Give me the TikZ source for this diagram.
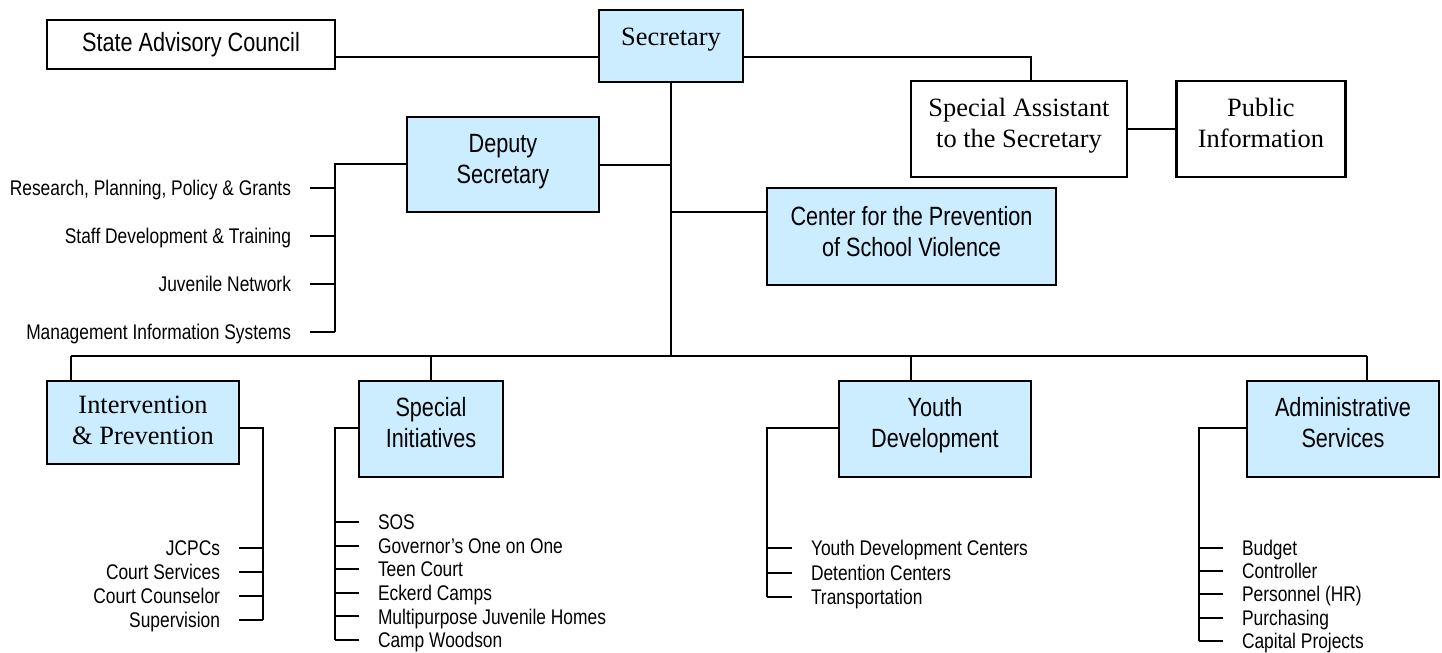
\documentclass[tikz,border=0pt]{standalone}
\usepackage{fontspec}
\setmainfont{Liberation Serif}
\newfontfamily\narrowsans[FakeStretch=0.82]{Liberation Sans}
\usetikzlibrary{positioning}
\definecolor{boxblue}{RGB}{204,236,255}
\newcommand{\twoline}[2]{\begin{tabular}{@{}c@{}}#1\\#2\end{tabular}}

\begin{document}
\begin{tikzpicture}[
    x=0.5pt, y=-0.5pt,
    line width=1pt,
    box/.style={rectangle, draw, line width=1.2pt, inner sep=0pt},
    bluebox/.style={box, fill=boxblue},
    raised/.style={text depth=15.7pt},
    sansbig/.style={font=\narrowsans\fontsize{13.2}{15.5}\selectfont},
    serifbig/.style={font=\fontsize{13.2}{15.5}\selectfont},
    item/.style={font=\narrowsans\fontsize{10.6}{12}\selectfont, inner xsep=9pt, inner ysep=0pt, text height=7.6pt, text depth=0pt}
]
    \useasboundingbox (0,0) rectangle (1442,653);

    % top level
    \node[box, sansbig, minimum width=144pt, minimum height=24.5pt] (sac) at (191,44.5) {State Advisory Council};
    \node[bluebox, serifbig, text depth=9pt, minimum width=72pt, minimum height=36pt] (sec) at (671,46) {Secretary};
    \node[bluebox, sansbig, raised, minimum width=96pt, minimum height=47.5pt] (dep) at (503,164.5) {\twoline{Deputy}{Secretary}};
    \node[bluebox, sansbig, text depth=14.7pt, minimum width=144.5pt, minimum height=48.5pt] (cpsv) at (911.5,236.5) {\twoline{Center for the Prevention}{of School Violence}};
    \node[box, serifbig, raised, minimum width=108pt, minimum height=48pt] (sa) at (1019,129) {\twoline{Special Assistant}{to the Secretary}};
    \node[box, serifbig, raised, minimum width=84.5pt, minimum height=48pt, right=23.5pt of sa] (pi) {\twoline{Public}{Information}};

    % divisions
    \node[bluebox, serifbig, minimum width=96pt, minimum height=41.5pt] (ip) at (143,422.5) {\twoline{Intervention}{\& Prevention}};
    \node[bluebox, sansbig, raised, minimum width=72pt, minimum height=48pt] (si) at (431,429) {\twoline{Special}{Initiatives}};
    \node[bluebox, sansbig, raised, minimum width=96pt, minimum height=48pt] (yd) at (935,429) {\twoline{Youth}{Development}};
    \node[bluebox, sansbig, raised, minimum width=96pt, minimum height=48pt] (as) at (1343,429) {\twoline{Administrative}{Services}};

    % sub units
    \foreach \t [count=\i] in {{Research, Planning, Policy \& Grants}, {Staff Development \& Training}, {Juvenile Network}, {Management Information Systems}}
        \node[item, anchor=east] (dl\i) at (310,{188+48*(\i-1)}) {\t};
    \foreach \t [count=\i] in {JCPCs, Court Services, Court Counselor, Supervision}
        \node[item, anchor=east] (ip\i) at (239,{548+24*(\i-1)}) {\t};
    \foreach \t [count=\i] in {SOS, Governor’s One on One, Teen Court, Eckerd Camps, Multipurpose Juvenile Homes, Camp Woodson}
        \node[item, anchor=west] (si\i) at (359,{522+23.6*(\i-1)}) {\t};
    \foreach \t [count=\i] in {Youth Development Centers, Detention Centers, Transportation}
        \node[item, anchor=west] (yd\i) at (792,{548+24.5*(\i-1)}) {\t};
    \foreach \t [count=\i] in {Budget, Controller, Personnel (HR), Purchasing, Capital Projects}
        \node[item, anchor=west] (as\i) at (1223,{547.5+23.4*(\i-1)}) {\t};

    % connectors
    \coordinate (topbar) at (671,57);
    \coordinate (sabend) at (1031,57);
    \coordinate (cpsvbar) at (671,212);
    \coordinate (ipdrop) at (71,356);
    \coordinate (yddrop) at (911,356);
    \coordinate (asdrop) at (1367,356);
    \coordinate (dlspine) at (335,164);
    \coordinate (ipspine) at (263,428);
    \coordinate (sispine) at (335,428);
    \coordinate (ydspine) at (767,428);
    \coordinate (asspine) at (1199,428);

    \draw (sac.east |- topbar) -- (sec.west |- topbar);
    \draw (sec.east |- topbar) -- (sabend) -- (sabend |- sa.north);
    \draw (sa.east) -- (pi.west);
    \draw (sec.south) -- (sec.south |- ipdrop);
    \draw (dep.east) -- (dep.east -| sec.south);
    \draw (cpsvbar) -- (cpsv.west |- cpsvbar);

    \draw (ipdrop) -- (asdrop);
    \draw (ipdrop) -- (ipdrop |- ip.north);
    \draw (si.north |- ipdrop) -- (si.north);
    \draw (yddrop) -- (yddrop |- yd.north);
    \draw (asdrop) -- (asdrop |- as.north);

    \draw (dep.west |- dlspine) -- (dlspine) -- (dlspine |- dl4.east);
    \foreach \i in {1,...,4} \draw (dl\i.east) -- (dl\i.east -| dlspine);
    \draw (ip.east |- ipspine) -- (ipspine) -- (ipspine |- ip4.east);
    \foreach \i in {1,...,4} \draw (ip\i.east) -- (ip\i.east -| ipspine);
    \draw (si.west |- sispine) -- (sispine) -- (sispine |- si6.west);
    \foreach \i in {1,...,6} \draw (si\i.west) -- (si\i.west -| sispine);
    \draw (yd.west |- ydspine) -- (ydspine) -- (ydspine |- yd3.west);
    \foreach \i in {1,...,3} \draw (yd\i.west) -- (yd\i.west -| ydspine);
    \draw (as.west |- asspine) -- (asspine) -- (asspine |- as5.west);
    \foreach \i in {1,...,5} \draw (as\i.west) -- (as\i.west -| asspine);
\end{tikzpicture}
\end{document}
